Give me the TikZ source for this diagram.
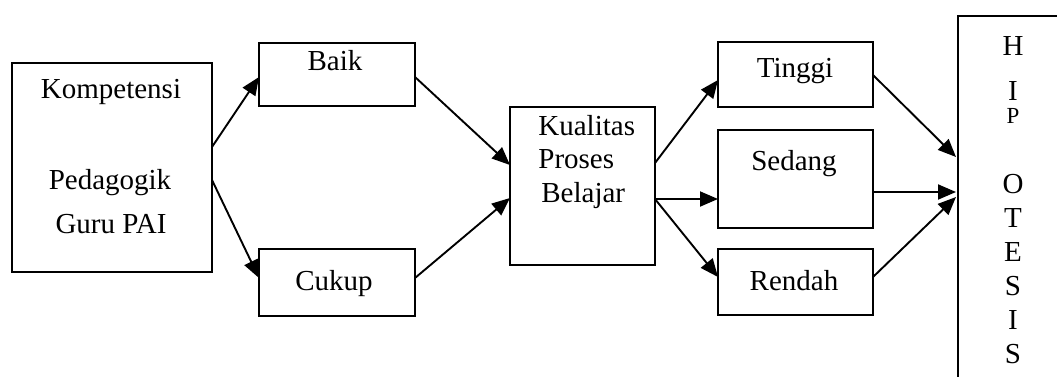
\documentclass[tikz,border=0pt]{standalone}
\usepackage{fontspec}
\setmainfont{Liberation Serif}
\usetikzlibrary{arrows.meta,calc}
\begin{document}
\begin{tikzpicture}[x=0.5pt,y=-0.5pt,
  box/.style={draw, line width=1.3pt, inner sep=0pt, outer sep=0pt},
  txt/.style={inner sep=0pt, anchor=base, font=\fontsize{14.5}{17}\selectfont},
  txtl/.style={inner sep=0pt, anchor=base west, font=\fontsize{14.5}{17}\selectfont},
  small/.style={inner sep=0pt, anchor=base, font=\fontsize{11.5}{14}\selectfont},
  conn/.style={line width=0.95pt, -{Triangle[length=9pt,width=7.5pt]}}]
\useasboundingbox (0,0) rectangle (1057,376);
\clip (0,0) rectangle (1057,376);
% boxes
\node[box, minimum width=100pt, minimum height=104.5pt] (komp) at (112,167.5) {};
\node[box, minimum width=78pt, minimum height=31.5pt] (baik) at (337,74.5) {};
\node[box, minimum width=78pt, minimum height=33.5pt] (cukup) at (337,282.5) {};
\node[box, minimum width=72.5pt, minimum height=79pt] (kual) at (582.5,186) {};
\node[box, minimum width=77.5pt, minimum height=32.5pt] (tinggi) at (795.5,74.5) {};
\node[box, minimum width=77.5pt, minimum height=49pt] (sedang) at (795.5,179) {};
\node[box, minimum width=77.5pt, minimum height=33pt] (rendah) at (795.5,282) {};
\node[box, minimum width=56pt, minimum height=187pt] (hip) at (1014,203) {};
% texts
\node[txt] (t1) at (111,98) {Kompetensi};
\node[txt] (t2) at (110,189) {Pedagogik};
\node[txt] (t3) at (111,233) {Guru PAI};
\node[txt] (t4) at (335,70) {Baik};
\node[txt] (t5) at (334,290) {Cukup};
\node[txtl] (t6) at (538,135) {Kualitas};
\node[txtl] (t7) at (538,168) {Proses};
\node[txtl] (t8) at (541,202) {Belajar};
\node[txt] (t9) at (795,77) {Tinggi};
\node[txt] (t10) at (794,170) {Sedang};
\node[txt] (t11) at (794,290) {Rendah};
\node[txt] (h1) at (1013,55) {H};
\node[txt] (h2) at (1013,100) {I};
\node[small] (h3) at (1013,123) {P};
\node[txt] (h4) at (1013,193) {O};
\node[txt] (h5) at (1013,227) {T};
\node[txt] (h6) at (1013,261) {E};
\node[txt] (h7) at (1013,295) {S};
\node[txt] (h8) at (1013,329) {I};
\node[txt] (h9) at (1013,363) {S};
% connectors
\draw[conn] ($(komp.east)+(0,-20.5)$) -- ($(baik.west)+(0,2.5)$);
\draw[conn] ($(komp.east)+(0,12.5)$) -- ($(cukup.west)+(0,-4.5)$);
\draw[conn] ($(baik.east)+(0,2.5)$) -- ($(kual.west)+(0,-21)$);
\draw[conn] ($(cukup.east)+(0,-4.5)$) -- ($(kual.west)+(0,12)$);
\draw[conn] ($(kual.east)+(0,-23)$) -- ($(tinggi.west)+(0,5.5)$);
\draw[conn] ($(kual.east)+(0,13)$) -- ($(sedang.west)+(0,20)$);
\draw[conn] ($(kual.east)+(0,13)$) -- ($(rendah.west)+(0,-5)$);
\draw[conn] ($(tinggi.east)+(0,0.5)$) -- ($(hip.west)+(-2,-46)$);
\draw[conn] ($(sedang.east)+(0,13)$) -- ($(hip.west)+(-2,-11)$);
\draw[conn] ($(rendah.east)+(0,-5)$) -- ($(hip.west)+(-2,-6)$);
\end{tikzpicture}
\end{document}
